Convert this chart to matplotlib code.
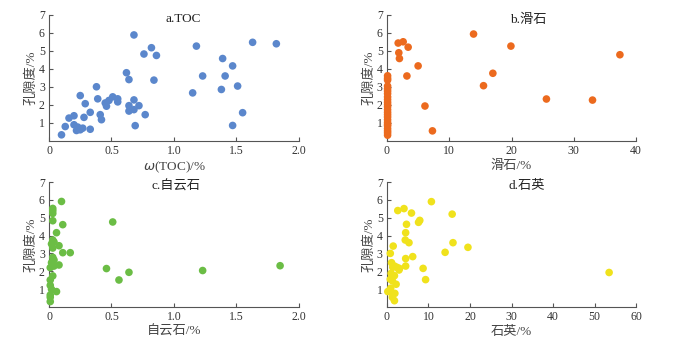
import matplotlib.pyplot as plt

plt.rcParams['font.family'] = ['Liberation Serif', 'Noto Sans CJK SC']
plt.rcParams['axes.unicode_minus'] = False

# a. TOC vs porosity
toc_x = [0.10, 0.13, 0.16, 0.20, 0.20, 0.22, 0.23, 0.25, 0.27, 0.25, 0.28, 0.29,
         0.33, 0.33, 0.38, 0.39, 0.41, 0.42, 0.45, 0.46, 0.48, 0.51, 0.55, 0.55,
         0.62, 0.64, 0.64, 0.64, 0.68, 0.68, 0.68, 0.72, 0.69, 0.76, 0.77, 0.82,
         0.84, 0.86, 1.15, 1.18, 1.23, 1.39, 1.38, 1.41, 1.47, 1.47, 1.51, 1.55,
         1.63, 1.82]
toc_y = [0.34, 0.80, 1.27, 1.40, 0.90, 0.58, 0.77, 0.62, 0.71, 2.52, 1.31, 2.07,
         1.59, 0.65, 3.01, 2.34, 1.46, 1.18, 2.11, 1.93, 2.25, 2.45, 2.34, 2.17,
         3.79, 3.41, 1.96, 1.66, 2.28, 5.89, 1.74, 1.96, 0.85, 4.83, 1.46, 5.18,
         3.38, 4.75, 2.67, 5.27, 3.61, 4.58, 2.86, 3.61, 4.17, 0.86, 3.05, 1.57,
         5.48, 5.40]

# b. talc vs porosity
talc_x = [1.8, 2.6, 1.9, 2.0, 3.4, 3.2, 5.0, 6.1, 7.3, 13.9, 15.5, 17.0, 19.9,
          25.6, 33.0, 37.4] + [0.1] * 24
talc_y = [5.44, 5.51, 4.90, 4.58, 5.21, 3.61, 4.17, 1.94, 0.56, 5.94, 3.07, 3.76,
          5.27, 2.33, 2.27, 4.79,
          3.62, 3.48, 3.38, 3.05, 2.90, 2.77, 2.63, 2.45, 2.30, 2.15, 2.02, 1.90,
          1.74, 1.59, 1.46, 1.33, 1.18, 1.03, 0.92, 0.84, 0.69, 0.56, 0.45, 0.32]

# c. dolomite vs porosity
dol_x = [0.10, 0.03, 0.03, 0.03, 0.03, 0.11, 0.06, 0.03, 0.04, 0.02, 0.08, 0.03,
         0.11, 0.17, 0.03, 0.04, 0.02, 0.08, 0.04, 0.01, 0.03, 0.01, 0.01, 0.02,
         0.06, 0.01, 0.01, 0.01, 0.46, 0.51, 0.56, 0.64, 1.23, 1.85]
dol_y = [5.91, 5.52, 5.39, 5.24, 4.83, 4.61, 4.16, 3.75, 3.64, 3.53, 3.43, 3.30,
         3.04, 3.04, 2.78, 2.63, 2.48, 2.35, 2.29, 2.20, 1.74, 1.51, 1.21, 0.99,
         0.86, 0.67, 0.54, 0.30, 2.15, 4.76, 1.51, 1.94, 2.04, 2.31]

# d. quartz vs porosity
qtz_x = [10.7, 2.6, 4.1, 5.9, 15.7, 4.7, 7.9, 7.6, 4.5, 4.4, 5.3, 1.5, 15.9, 14.0,
         19.5, 0.8, 6.2, 4.5, 4.5, 8.7, 9.3, 1.1, 1.8, 2.4, 3.0, 2.9, 1.4, 1.0,
         1.8, 0.8, 1.3, 2.2, 0.2, 1.4, 1.9, 1.3, 1.8, 0.9, 53.5]
qtz_y = [5.90, 5.40, 5.51, 5.26, 5.20, 4.63, 4.85, 4.74, 4.16, 3.75, 3.60, 3.41,
         3.60, 3.06, 3.34, 3.00, 2.82, 2.71, 2.29, 2.16, 1.53, 2.48, 2.29, 2.22,
         2.16, 2.07, 2.22, 1.88, 1.75, 1.55, 1.46, 1.27, 0.86, 0.76, 0.76, 0.54,
         0.35, 1.05, 1.93]

panels = [
    (toc_x, toc_y, '#5b87cc', 'a.TOC', r'$\omega$(TOC)/%', 2.0,
     [0, 0.5, 1.0, 1.5, 2.0], ['0', '0.5', '1.0', '1.5', '2.0'], 0.536),
    (talc_x, talc_y, '#ec6a1e', 'b.滑石', '滑石/%', 40,
     [0, 10, 20, 30, 40], ['0', '10', '20', '30', '40'], 0.566),
    (dol_x, dol_y, '#6bbd45', 'c.自云石', '自云石/%', 2.0,
     [0, 0.5, 1.0, 1.5, 2.0], ['0', '0.5', '1.0', '1.5', '2.0'], 0.51),
    (qtz_x, qtz_y, '#f0e21c', 'd.石英', '石英/%', 60,
     [0, 10, 20, 30, 40, 50, 60], ['0', '10', '20', '30', '40', '50', '60'], 0.56),
]

rects = [
    [0.0724, 0.595, 0.369, 0.362],
    [0.5716, 0.595, 0.368, 0.362],
    [0.0724, 0.118, 0.369, 0.359],
    [0.5716, 0.118, 0.368, 0.359],
]

fig = plt.figure(figsize=(6.77, 3.48), dpi=100)

for rect, (xs, ys, color, title, xlabel, xmax, xt, xtl, tx) in zip(rects, panels):
    ax = fig.add_axes(rect)
    ax.scatter(xs, ys, s=30, color=color, edgecolors='none', clip_on=False, zorder=3)
    ax.set_xlim(0, xmax)
    ax.set_ylim(0, 7)
    ax.set_xticks(xt)
    ax.set_xticklabels(xtl)
    ax.set_yticks([1, 2, 3, 4, 5, 6, 7])
    ax.spines['top'].set_visible(False)
    ax.spines['right'].set_visible(False)
    for s in ('left', 'bottom'):
        ax.spines[s].set_color('#555555')
        ax.spines[s].set_linewidth(0.8)
    ax.tick_params(direction='in', length=3, width=0.8, colors='#555555',
                   labelcolor='#333333', labelsize=8.5, pad=3)
    ax.text(tx, 0.965, title, transform=ax.transAxes, ha='center', va='center',
            fontsize=9.5, color='#222222')
    ax.set_xlabel(xlabel, fontsize=9.5, color='#444444', labelpad=2)
    ax.set_ylabel('孔隙度/%', fontsize=9.5, color='#444444', labelpad=1)

plt.savefig('out.png', dpi=100)
